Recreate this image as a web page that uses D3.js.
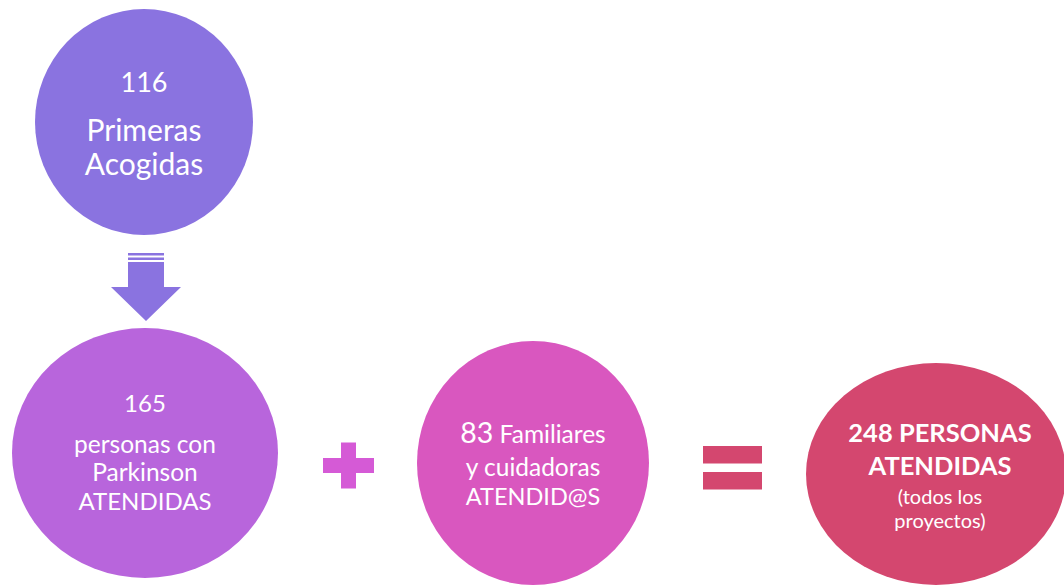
<!DOCTYPE html>
<meta charset="utf-8">
<style>
  body { margin: 0; background: #fff; }
  svg { display: block; font-family: Lato, "Open Sans", sans-serif; }
  .lbl { fill: #fff; text-anchor: middle; }
</style>
<svg width="1064" height="585"></svg>
<script src="https://d3js.org/d3.v7.min.js"></script>
<script>
  // data
  var values = [116, 165, 83, 248];
  var names = ["Primeras Acogidas", "personas con Parkinson ATENDIDAS", "Familiares y cuidadoras ATENDID@S", "PERSONAS ATENDIDAS"];
  var notes = ["", "", "", "(todos los proyectos)"];
  var colors = ["#8a73e0", "#b865dc", "#d957bf", "#d4476f"];
  var operators = ["+", "="];

  var svg = d3.select("svg");
  var color = d3.scaleOrdinal().domain(d3.range(values.length)).range(colors);

  // layout of the diagram (not data)
  var nodes = [
    { cx: 144, cy: 122, rx: 109, ry: 113 },
    { cx: 145, cy: 453, rx: 133, ry: 125 },
    { cx: 533, cy: 463, rx: 116, ry: 122 },
    { cx: 936, cy: 474, rx: 130, ry: 111 }
  ];

  // text lines per node: [text, size, weight, baseline]
  var lines = [
    [[String(values[0]), 27, 400, 92], ["Primeras", 30, 400, 141], ["Acogidas", 30, 400, 175]],
    [[String(values[1]), 24, 400, 412], ["personas con", 24.5, 400, 453], ["Parkinson", 24.5, 400, 481], ["ATENDIDAS", 24, 400, 510]],
    [[null, 0, 400, 443], ["y cuidadoras", 24.5, 400, 476], ["ATENDID@S", 23.5, 400, 505]],
    [[values[3] + " PERSONAS", 25.5, 700, 442], ["ATENDIDAS", 25.5, 700, 475], ["(todos los", 20, 400, 504], ["proyectos)", 20, 400, 528]]
  ];

  svg.selectAll("ellipse.node")
    .data(nodes)
    .enter()
    .append("ellipse")
    .attr("class", "node")
    .attr("cx", function (d) { return d.cx; })
    .attr("cy", function (d) { return d.cy; })
    .attr("rx", function (d) { return d.rx; })
    .attr("ry", function (d) { return d.ry; })
    .attr("fill", function (d, i) { return color(i); });

  lines.forEach(function (ls, i) {
    var g = svg.append("g");
    ls.forEach(function (l) {
      if (l[0] === null) return;
      g.append("text")
        .attr("class", "lbl")
        .attr("x", nodes[i].cx + (i === 3 ? 4 : 0))
        .attr("y", l[3])
        .style("font-size", l[1] + "px")
        .style("font-weight", l[2])
        .text(l[0]);
    });
  });

  // mixed-size first line in node 3
  var t3 = svg.append("text")
    .attr("class", "lbl")
    .attr("x", nodes[2].cx)
    .attr("y", 443);
  t3.append("tspan").style("font-size", "28.5px").text(values[2]);
  t3.append("tspan").style("font-size", "24.5px").text(" Familiares");

  // down arrow between node 0 and node 1
  var a = { x: 146, shaftW: 36, headW: 70, top: 262, headTop: 287, tip: 321 };
  svg.append("path")
    .attr("fill", color(0))
    .attr("d", d3.line()([
      [a.x - a.shaftW / 2, a.top], [a.x + a.shaftW / 2, a.top],
      [a.x + a.shaftW / 2, a.headTop], [a.x + a.headW / 2, a.headTop],
      [a.x, a.tip], [a.x - a.headW / 2, a.headTop],
      [a.x - a.shaftW / 2, a.headTop]
    ]) + "Z");
  [253, 257.5].forEach(function (y) {
    svg.append("rect")
      .attr("x", a.x - a.shaftW / 2).attr("y", y)
      .attr("width", a.shaftW).attr("height", 2.5)
      .attr("fill", color(0));
  });

  // plus sign
  var plus = { x: 348.5, y: 465.5, len: 51, w: 15, h: 46 };
  svg.append("rect").attr("fill", "#d55ad6")
    .attr("x", plus.x - plus.len / 2).attr("y", plus.y - plus.w / 2)
    .attr("width", plus.len).attr("height", plus.w);
  svg.append("rect").attr("fill", "#d55ad6")
    .attr("x", plus.x - plus.w / 2).attr("y", plus.y - plus.h / 2)
    .attr("width", plus.w).attr("height", plus.h);

  // equals sign
  var eq = { x: 703, w: 59, bars: [446, 472], h: 17.5 };
  eq.bars.forEach(function (y) {
    svg.append("rect").attr("fill", color(3))
      .attr("x", eq.x).attr("y", y)
      .attr("width", eq.w).attr("height", eq.h);
  });
</script>
